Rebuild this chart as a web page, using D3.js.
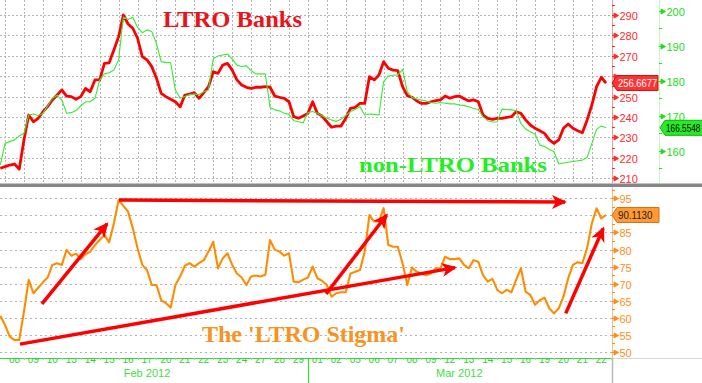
<!DOCTYPE html>
<html>
<head>
<meta charset="utf-8">
<script src="https://cdn.jsdelivr.net/npm/d3@7"></script>
<style>
body { margin: 0; background: #fff; }
svg { display: block; }
</style>
</head>
<body>
<svg id="chart"></svg>
<script>
// trading days shown on the date axis (Feb 08 .. Mar 22 2012)
var dayLabels = ["08","09","10","13","14","15","16","17","20","21","22","23","24","27","28","29",
                 "01","02","05","06","07","08","09","12","13","14","15","16","19","20","21","22"];
var monthNames = ["Feb 2012", "Mar 2012"];
var monthAt = [7.0, 23.5];      // label centre, in trading days
var monthBreak = 15.5;          // between 29 Feb and 01 Mar

// every series is sampled each quarter of a trading day, starting 3/4 day before Feb 08
var sampleStart = -0.75;
var sampleStep = 0.25;

var ltroBanks = [
  214.9,215.7,216.5,217,214.5,228.8,241,237.7,239.4,242.6,245.1,248.4,250.8,253.3,250.3,250,
  248.7,250,254,252.4,258.2,258.2,266.3,266.6,272.9,279.4,290,285.6,283.5,278.6,269.6,268,
  264.7,259,251.6,250,248.7,247.5,245,250.8,251.3,252,249.2,252,254.9,262.2,261.4,265.5,
  266.3,263,258.2,255.7,254.6,254.1,254.6,254.6,254.9,254.6,250.3,249.7,249.2,247.5,240.2,239.4,
  240.5,241.8,247.5,241.8,240.5,237.7,235,235.6,235.6,239.4,244.3,244.8,246.7,246.7,259.8,258.2,
  260.6,267.1,263.9,263,262.7,254.9,250.5,249.7,247.9,246.7,246.7,247.5,248,248.4,250.3,249.2,
  250,250.3,249,247.9,248.4,247.5,241,239.4,238.9,239.4,239.4,239.9,240.2,242.6,241.8,238.6,
  236.1,234.5,233.3,232,228.8,227.1,228.8,234.5,236.6,234.5,233.3,232.3,238.6,245.9,254.9,259.5,
  256.6677
];
var nonLtroBanks = [
  155.9,162.1,162.6,163.1,164.2,165,170.2,170.5,170.1,170.7,172.8,175,175.9,174.5,170.7,170.9,
  171.5,172.8,174,174,175,180.2,182,182.3,183.1,186,198.2,197.6,198.2,195.3,193.8,194.6,
  194.1,190.7,185.5,185.3,185.2,177.4,175,175.5,176.1,176.2,176.1,176.9,177.4,186.4,187.1,187.4,
  187.7,186.2,184.5,184.1,184.3,182.9,182,182,182,172.4,171.7,171.4,170.7,170.4,168.6,168.3,
  168,170.9,171.2,170.7,170,169.3,168.8,168.4,169,170.1,171.2,171.9,172.6,170.2,170.5,170.4,
  170.2,179.8,181.4,181.6,181.7,183.3,176.9,175.2,174.8,174.5,174.2,173.8,173.6,173.8,173.6,173.4,
  173.4,173.1,172.9,172.6,172.1,171.8,169.7,168.6,168.2,168.3,171.9,171.8,171.7,171.5,167.8,166.2,
  165.4,164.8,161.6,161.2,160.4,159.7,156.2,156.5,156.7,156.9,157.1,157.3,158.1,162.1,166.1,167.1,
  166.5548
];
var ltroStigma = [
  60.6,57.9,54.5,53.5,53.5,61.8,71.1,67.2,68.8,70.4,71.8,75.5,76,75.5,79.9,78.2,
  78.8,77.2,78.6,79.4,81.3,82.8,84.3,82.1,87.7,94.5,92.8,91.1,86.2,80.4,75.5,74,
  69.6,69.6,65.2,64.3,63,69.6,72.1,75.3,76,75,76,76.9,79.4,82.3,74.5,77.4,
  78.9,75.5,73,71.8,69.6,72.1,72.4,72.1,72.6,82.8,79.9,79.4,78.2,78.9,70.6,70.4,
  71.2,71.8,75,71.6,70.8,69.6,66.2,67.2,67.5,67.5,73,73.5,74,79.4,90.1,88.2,
  88.2,92.1,81.3,80.8,80.8,76,69.6,74.7,73.5,73,72.5,73,74.5,74.5,77.9,77.2,
  77.2,77.4,75.5,74.5,76.9,76.4,72.5,70.6,71.4,68.2,67.2,68.2,67.5,71.1,74.5,67.7,
  66.7,63.8,65.2,65.9,62.8,61.3,62.8,66.2,71.6,75.5,76.3,76,80.4,87.7,92.1,89.1,
  90.1130
];

var ltroTicks = [210, 220, 230, 240, 250, 260, 270, 280, 290];
var nonLtroTicks = [160, 170, 180, 190, 200];
var stigmaTicks = [50, 55, 60, 65, 70, 75, 80, 85, 90, 95];

// hand drawn arrows on the lower panel: [trading day, stigma value] pairs
var stigmaArrows = [
  [[1.45, 64.1], [4.89, 87.5]],
  [[5.52, 94.5], [29.08, 93.9]],
  [[0.29, 52.3], [23.27, 74.7]],
  [[16.46, 67.0], [19.66, 90.1]],
  [[29.12, 61.3], [31.1, 86.2]]
];

var W = 702, H = 383;
var plotRight = 612, greenAxisX = 659;
var topPanel = {top: 0, bottom: 183};
var botPanel = {top: 187, bottom: 358};
var sans = "'Liberation Sans', Arial, sans-serif";
var serif = "'Liberation Serif', 'Times New Roman', serif";

var svg = d3.select("#chart").attr("width", W).attr("height", H);
var defs = svg.append("defs");

var x = d3.scaleLinear().domain([-0.766, 31.564]).range([0, plotRight]);
var yRed = d3.scaleLinear().domain([210, 290]).range([178.3, 15]);
var yGreen = d3.scaleLinear().domain([160, 200]).range([150.7, 11]);
var yOrange = d3.scaleLinear().domain([50, 95]).range([352, 198.3]);

function sampleT(i) { return sampleStart + i * sampleStep; }
function last(a) { return a[a.length - 1]; }

function addGroup(parent, id) {
    return parent.append("g").attr("id", id);
}

function drawLine(g, color, width, x1, x2, y1, y2, dash) {
    return g.append("line")
        .attr("x1", x1).attr("x2", x2).attr("y1", y1).attr("y2", y2)
        .attr("stroke", color).attr("stroke-width", width)
        .attr("stroke-dasharray", dash || null);
}

function drawSeries(g, values, yScale, color, width) {
    var line = d3.line()
        .x(function(d, i) { return x(sampleT(i)); })
        .y(function(d) { return yScale(d); });
    g.append("path")
        .attr("d", line(values))
        .attr("fill", "none")
        .attr("stroke", color)
        .attr("stroke-width", width)
        .attr("stroke-linejoin", "round");
}

// right hand axis with the little arrow shaped ticks; labels hidden under the value tag are skipped
function drawAxis(g, scale, ticks, minorStep, axisX, top, bottom, lineColor, color, tagValue) {
    drawLine(g, lineColor, 1, axisX + 0.5, axisX + 0.5, top, bottom);
    var minor = [];
    for (var i = 0; i < ticks.length; ++i) {
        minor.push(ticks[i] - minorStep);
        if (i == ticks.length - 1) minor.push(ticks[i] + minorStep);
    }
    minor.forEach(function(v) {
        var y = Math.round(scale(v)) + 0.5;
        if (y < top || y > bottom) return;
        drawLine(g, color, 1, axisX, axisX + 3, y, y);
    });
    ticks.forEach(function(v) {
        var y = Math.round(scale(v)) + 0.5;
        g.append("path")
            .attr("d", "M" + axisX + "," + y + "H" + (axisX + 3) +
                  "M" + (axisX + 2) + "," + (y - 2.5) + "L" + (axisX + 6.5) + "," + y +
                  "L" + (axisX + 2) + "," + (y + 2.5) + "Z")
            .attr("stroke", color).attr("stroke-width", 1).attr("fill", color);
        if (Math.abs(y - scale(tagValue)) < 11) return;
        g.append("text")
            .attr("x", axisX + 7.5).attr("y", y + 4)
            .attr("fill", color)
            .attr("font-family", sans).attr("font-size", 11)
            .text(v);
    });
}

function drawValueTag(g, value, scale, x0, x1, fill, stroke, textColor, charW) {
    var y = scale(value);
    var h = 15;
    g.append("path")
        .attr("d", "M" + x0 + "," + y + "L" + (x0 + 5) + "," + (y - h / 2) + "H" + x1 +
              "V" + (y + h / 2) + "H" + (x0 + 5) + "Z")
        .attr("fill", fill).attr("stroke", stroke).attr("stroke-width", 1);
    var label = value.toFixed(4);
    g.append("text")
        .attr("x", x0 + 6).attr("y", y + 4)
        .attr("fill", textColor)
        .attr("font-family", sans).attr("font-size", 10.5)
        .attr("textLength", label.length * charW).attr("lengthAdjust", "spacingAndGlyphs")
        .text(label);
}

// ---------- grid ----------
var grid = addGroup(svg, "grid");
for (var d = -0.5; d < 31.5; d += 1) {
    drawLine(grid, "#b4b4b4", 1, Math.round(x(d)) + 0.5, Math.round(x(d)) + 0.5,
             topPanel.top, topPanel.bottom, "2,2");
}
ltroTicks.forEach(function(v) {
    var y = Math.round(yRed(v)) + 0.5;
    drawLine(grid, "#b4b4b4", 1, 0, plotRight, y, y, "2,2");
});
stigmaTicks.forEach(function(v) {
    var y = Math.round(yOrange(v)) + 0.5;
    drawLine(grid, "#b4b4b4", 1, 0, plotRight, y, y, "2,3");
});

// ---------- series ----------
var series = addGroup(svg, "series");
drawSeries(series, ltroBanks, yRed, "#ff0000", 2.8);
drawSeries(series, nonLtroBanks, yGreen, "#33ee33", 1.1);
drawSeries(series, ltroStigma, yOrange, "#ff8c00", 2.1);

// ---------- annotations ----------
var notes = addGroup(svg, "notes");
defs.append("marker")
    .attr("id", "head")
    .attr("markerUnits", "userSpaceOnUse")
    .attr("markerWidth", 16).attr("markerHeight", 14)
    .attr("refX", 13).attr("refY", 7)
    .attr("orient", "auto")
    .append("path")
    .attr("d", "M0,0 L15,7 L0,14 L4,7 Z")
    .attr("fill", "#ff0000");
stigmaArrows.forEach(function(a) {
    notes.append("line")
        .attr("x1", x(a[0][0])).attr("y1", yOrange(a[0][1]))
        .attr("x2", x(a[1][0])).attr("y2", yOrange(a[1][1]))
        .attr("stroke", "#ff0000").attr("stroke-width", 3.5)
        .attr("marker-end", "url(#head)");
});
notes.append("text").attr("x", 163).attr("y", 27)
    .attr("fill", "#e8141a").attr("font-family", serif).attr("font-weight", "bold")
    .attr("font-size", 24).attr("textLength", 139).attr("lengthAdjust", "spacingAndGlyphs")
    .text("LTRO Banks");
notes.append("text").attr("x", 359).attr("y", 172)
    .attr("fill", "#22ee22").attr("font-family", serif).attr("font-weight", "bold")
    .attr("font-size", 22).attr("textLength", 188).attr("lengthAdjust", "spacingAndGlyphs")
    .text("non-LTRO Banks");
notes.append("text").attr("x", 202).attr("y", 342)
    .attr("fill", "#f7931e").attr("font-family", serif).attr("font-weight", "bold")
    .attr("font-size", 23).attr("textLength", 203).attr("lengthAdjust", "spacingAndGlyphs")
    .text("The 'LTRO Stigma'");

// ---------- frame ----------
var frame = addGroup(svg, "frame");
frame.append("rect").attr("x", 0).attr("y", 183.5).attr("width", W).attr("height", 3.5)
    .attr("fill", "#868686");
drawLine(frame, "#d8d8d8", 1, plotRight, W, 358.5, 358.5);
drawLine(frame, "#b8b8b8", 1.5, plotRight + 0.5, plotRight + 0.5, 358, H);

// ---------- value axes ----------
var axes = addGroup(svg, "axes");
drawAxis(axes, yRed, ltroTicks, 5, plotRight, 0, 183, "#f29a9a", "#ff2a2a", last(ltroBanks));
drawAxis(axes, yGreen, nonLtroTicks, 5, greenAxisX, 0, 183, "#c6f5c6", "#22dd22", last(nonLtroBanks));
drawAxis(axes, yOrange, stigmaTicks, 2.5, plotRight, 187, 358, "#f5c08a", "#ff8c1a", last(ltroStigma));
drawValueTag(axes, last(ltroBanks), yRed, plotRight, greenAxisX - 1, "#ff3333", "#d01010", "#ffffff", 4.9);
drawValueTag(axes, last(nonLtroBanks), yGreen, greenAxisX + 1, W + 2, "#22ee22", "#10b010", "#000000", 4.3);
drawValueTag(axes, last(ltroStigma), yOrange, plotRight, greenAxisX, "#ff9933", "#d87010", "#222222", 4.9);

// ---------- date axis ----------
var dates = addGroup(svg, "dates");
defs.append("clipPath").attr("id", "dateclip")
    .append("rect").attr("x", 0).attr("y", 358.5).attr("width", plotRight).attr("height", 30);
drawLine(dates, "#33dd33", 1, 0, plotRight, 358.5, 358.5);
var dateLabels = dates.append("g").attr("clip-path", "url(#dateclip)");
dayLabels.forEach(function(lab, i) {
    dateLabels.append("text")
        .attr("x", x(i)).attr("y", 362.5)
        .attr("text-anchor", "middle")
        .attr("fill", "#33cc33")
        .attr("font-family", sans).attr("font-size", 10)
        .text(lab);
    drawLine(dates, "#8ee88e", 1, Math.round(x(i + 0.5)) + 0.5, Math.round(x(i + 0.5)) + 0.5, 358, 360);
});
drawLine(dates, "#33dd33", 1.2, Math.round(x(monthBreak)) + 0.5, Math.round(x(monthBreak)) + 0.5, 358, H);
monthNames.forEach(function(m, i) {
    dates.append("text")
        .attr("x", x(monthAt[i])).attr("y", 377)
        .attr("text-anchor", "middle")
        .attr("fill", "#44dd44")
        .attr("font-family", sans).attr("font-size", 11)
        .text(m);
});
</script>
</body>
</html>
